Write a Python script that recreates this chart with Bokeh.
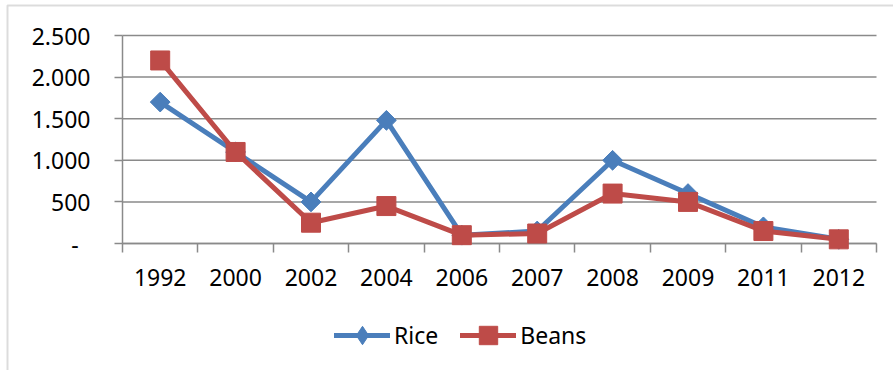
import numpy as np
from bokeh.plotting import figure
from bokeh.models import Range1d, FixedTicker, Legend, LegendItem, BoxAnnotation
from bokeh.embed import file_html
from bokeh.resources import INLINE

# Harvest series by year
years = ["1992", "2000", "2002", "2004", "2006", "2007", "2008", "2009", "2011", "2012"]
rice = [1700, 1100, 500, 1480, 100, 150, 1000, 600, 200, 50]
beans = [2200, 1100, 250, 450, 100, 120, 600, 500, 150, 50]
y_ticks = [0, 500, 1000, 1500, 2000, 2500]
y_tick_labels = ["-\u00a0\u00a0", "500", "1.000", "1.500", "2.000", "2.500"]

FONT = "Noto Sans"
GRID = "#8a8a8a"
BLUE = "#4a7ebb"
RED = "#be4b48"

W, H = 893, 370
# plot area in canvas pixels
AREA_L, AREA_R, AREA_T, AREA_B = 122, 876, 35, 243

n = len(years)
xs = [i + 0.5 for i in range(n)]
y_max = y_ticks[-1]

# the frame covers the whole canvas so that the legend and chart box stay
# visible; ranges are padded so the plot area sits at AREA_*
ppx = (AREA_R - AREA_L) / n
ppy = (AREA_B - AREA_T) / y_max
x_range = Range1d(-AREA_L / ppx, n + (W - AREA_R) / ppx)
y_range = Range1d(-(H - AREA_B) / ppy, y_max + AREA_T / ppy)

p = figure(width=W, height=H, output_backend="svg", toolbar_location=None,
           x_range=x_range, y_range=y_range,
           min_border=0, min_border_left=0, min_border_right=0,
           min_border_top=0, min_border_bottom=0)
p.outline_line_color = None
p.background_fill_color = "white"
p.border_fill_color = "white"
p.xgrid.visible = False
p.ygrid.visible = False

# chart box: grey rule along the left and top edges
border = BoxAnnotation(left=7, right=2000, top=5, bottom=2000,
                       left_units="canvas", right_units="canvas",
                       top_units="canvas", bottom_units="canvas",
                       fill_alpha=0, line_color="#8c8c8c", line_width=2,
                       level="underlay")
p.add_layout(border)

# horizontal gridlines across the plot area
p.segment(x0=[0] * len(y_ticks), x1=[n] * len(y_ticks), y0=y_ticks, y1=y_ticks,
          line_color=GRID, line_width=1.5, level="underlay")

# x axis: labels centred on categories, tick marks between categories
xa = p.xaxis[0]
xa.fixed_location = 0
xa.bounds = (0, n)
xa.ticker = FixedTicker(ticks=xs, minor_ticks=list(range(n + 1)))
xa.major_label_overrides = {x: y for x, y in zip(xs, years)}
xa.major_tick_line_color = None
xa.minor_tick_line_color = GRID
xa.minor_tick_line_width = 1.5
xa.minor_tick_out = 9
xa.minor_tick_in = 0
xa.axis_line_color = GRID
xa.axis_line_width = 1.5
xa.major_label_text_font = FONT
xa.major_label_text_font_size = "23px"
xa.major_label_text_color = "black"
xa.major_label_standoff = 16
xa.level = "underlay"

ya = p.yaxis[0]
ya.fixed_location = 0
ya.bounds = (0, y_max)
ya.ticker = FixedTicker(ticks=y_ticks, minor_ticks=[])
ya.major_label_overrides = {v: s for v, s in zip(y_ticks, y_tick_labels)}
ya.major_tick_line_color = GRID
ya.major_tick_line_width = 1.5
ya.major_tick_out = 8
ya.major_tick_in = 0
ya.axis_line_color = GRID
ya.axis_line_width = 1.5
ya.major_label_text_font = FONT
ya.major_label_text_font_size = "23px"
ya.major_label_text_color = "black"
ya.major_label_standoff = 24
ya.level = "underlay"

# series
r_line = p.line(xs, rice, line_color=BLUE, line_width=5, line_join="round", line_cap="round")
# diamond glyph (also used as the legend swatch), covered by the rotated square
r_key = p.scatter(xs, rice, marker="diamond", size=18, fill_color=BLUE, line_color=BLUE)
r_mark = p.scatter(xs, rice, marker="square", angle=np.pi / 4, size=14,
                   fill_color=BLUE, line_color=BLUE)
b_line = p.line(xs, beans, line_color=RED, line_width=5, line_join="round", line_cap="round")
b_mark = p.scatter(xs, beans, marker="square", size=19, fill_color=RED, line_color=RED)

legend = Legend(items=[LegendItem(label="Rice", renderers=[r_line, r_key]),
                       LegendItem(label="Beans", renderers=[b_line, b_mark])],
                orientation="horizontal", location=(334, 12),
                glyph_width=56, glyph_height=46, label_standoff=4, spacing=22,
                padding=0, margin=0, border_line_color=None,
                background_fill_alpha=0,
                label_text_font=FONT, label_text_font_size="23px",
                label_text_color="black")
p.add_layout(legend, "center")

open("out.html", "w").write(file_html(p, INLINE))
